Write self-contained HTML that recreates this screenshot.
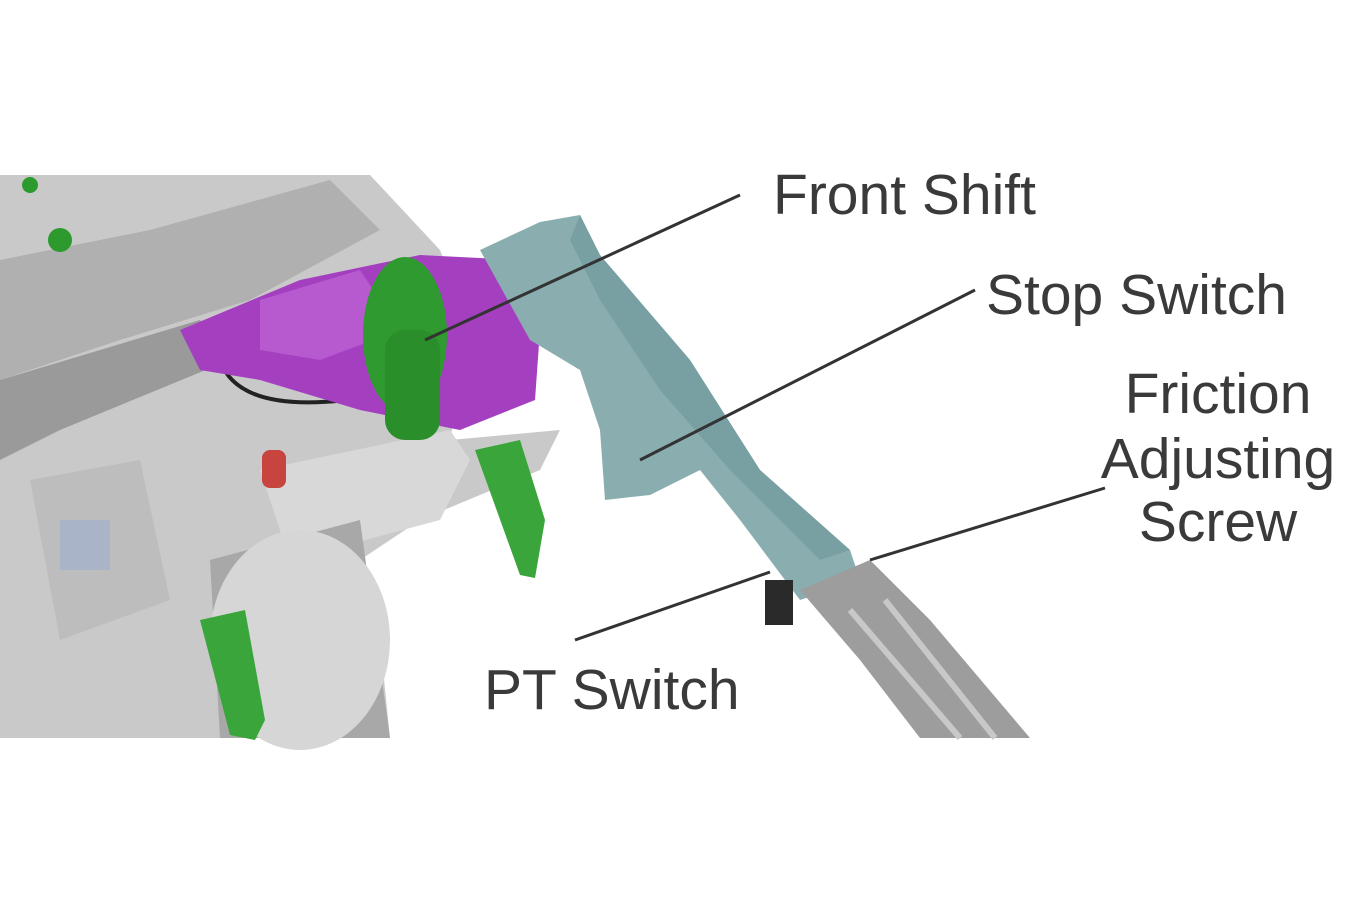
<!DOCTYPE html>
<html><head><meta charset="utf-8"><style>
html,body{margin:0;padding:0;background:#fff;}
svg{display:block;}
text{font-family:"Liberation Sans",sans-serif;fill:#3a3a3a;font-size:57px;}
</style></head><body>
<svg width="1347" height="900" viewBox="0 0 1347 900">
<rect width="1347" height="900" fill="#fff"/>
<polygon points="0,175 370,175 440,250 470,330 450,440 560,430 540,470 420,520 360,560 380,640 390,738 0,738" fill="#c9c9c9"/>
<polygon points="0,260 150,230 330,180 380,230 250,300 120,340 0,380" fill="#b0b0b0"/>
<polygon points="0,380 200,320 230,360 60,430 0,460" fill="#9a9a9a"/>
<polygon points="260,470 450,430 470,460 440,520 290,560" fill="#d8d8d8"/>
<polygon points="30,480 140,460 170,600 60,640" fill="#bdbdbd"/>
<polygon points="210,560 360,520 390,738 220,738" fill="#a8a8a8"/>
<ellipse cx="300" cy="640" rx="90" ry="110" fill="#d6d6d6"/>
<rect x="60" y="520" width="50" height="50" fill="#a9b4c9"/>
<rect x="262" y="450" width="24" height="38" rx="8" fill="#c8443f"/>
<path d="M220 360 Q240 420 380 395" stroke="#222" stroke-width="4" fill="none"/>
<circle cx="60" cy="240" r="12" fill="#2d9a2d"/>
<circle cx="30" cy="185" r="8" fill="#2d9a2d"/>
<polygon points="180,330 300,280 420,255 520,260 540,330 535,400 460,430 360,410 260,380 200,370" fill="#a43fc0"/>
<polygon points="260,300 360,270 400,330 320,360 260,350" fill="#b75ad0"/>
<ellipse cx="405" cy="335" rx="42" ry="78" fill="#2f9a2f"/>
<rect x="385" y="330" width="55" height="110" rx="20" fill="#2a8f2a"/>
<polygon points="475,450 520,440 545,520 535,578 520,575" fill="#3aa53a"/>
<polygon points="200,620 245,610 265,720 255,740 230,735" fill="#3aa53a"/>
<polygon points="480,250 540,222 580,215 600,255 690,360 760,470 850,550 860,580 800,600 740,520 700,470 650,495 605,500 600,430 580,370 530,340" fill="#8aaeb0"/>
<polygon points="580,215 600,255 690,360 760,470 850,550 820,560 730,470 660,390 600,300 570,240" fill="#78a0a3"/>
<polygon points="800,590 870,560 930,620 1030,738 920,738 860,660" fill="#9d9d9d"/>
<line x1="850" y1="610" x2="960" y2="738" stroke="#c8c8c8" stroke-width="6"/>
<line x1="885" y1="600" x2="995" y2="738" stroke="#c8c8c8" stroke-width="6"/>
<rect x="765" y="580" width="28" height="45" fill="#2a2a2a"/>
<g stroke="#333" stroke-width="3">
<line x1="740" y1="195" x2="425" y2="340"/>
<line x1="975" y1="290" x2="640" y2="460"/>
<line x1="1105" y1="488" x2="870" y2="560"/>
<line x1="575" y1="640" x2="770" y2="572"/>
</g>
<text x="773" y="214">Front Shift</text>
<text x="986" y="314">Stop Switch</text>
<text x="1218" y="413" text-anchor="middle">Friction</text>
<text x="1218" y="478" text-anchor="middle">Adjusting</text>
<text x="1218" y="541" text-anchor="middle">Screw</text>
<text x="484" y="709">PT Switch</text>
</svg>
</body></html>
